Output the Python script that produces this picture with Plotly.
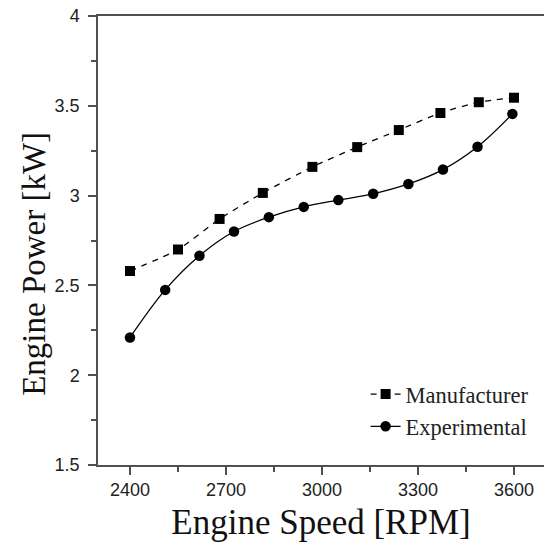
import plotly.graph_objects as go

# Manufacturer data
manu_rpm = [2400, 2550, 2680, 2815, 2970, 3110, 3240, 3370, 3490, 3600]
manu_kw = [2.58, 2.70, 2.87, 3.015, 3.16, 3.27, 3.365, 3.46, 3.52, 3.545]

# Experimental data
exp_rpm = [2400, 2510, 2617, 2725, 2834, 2943, 3051, 3160, 3270, 3378, 3486, 3595]
exp_kw = [2.21, 2.475, 2.665, 2.80, 2.88, 2.937, 2.975, 3.01, 3.065, 3.145, 3.272, 3.455]

x_ticks = [2400, 2700, 3000, 3300, 3600]
y_ticks = [1.5, 2, 2.5, 3, 3.5, 4]
y_ticktext = ["1.5", "2", "2.5", "3", "3.5", "4"]

axis_col = "#505050"

fig = go.Figure()
fig.add_trace(go.Scatter(
    x=manu_rpm, y=manu_kw, name="Manufacturer", mode="lines+markers",
    line=dict(color="black", width=1.3, dash="6px,6px", shape="spline", smoothing=0.6),
    marker=dict(symbol="square", size=10, color="black"),
))
fig.add_trace(go.Scatter(
    x=exp_rpm, y=exp_kw, name="Experimental", mode="lines+markers",
    line=dict(color="black", width=1.3, shape="spline"),
    marker=dict(symbol="circle", size=10.5, color="black"),
))

fig.update_layout(
    width=544, height=542,
    margin=dict(l=98, r=0, t=16, b=77),
    paper_bgcolor="white", plot_bgcolor="white",
    showlegend=True,
    legend=dict(
        x=0.60, y=0.205, xanchor="left", yanchor="top",
        font=dict(family="Liberation Serif", size=22.5, color="#222222"),
        bgcolor="rgba(0,0,0,0)", borderwidth=0,
        tracegroupgap=0,
    ),
    xaxis=dict(
        range=[2300, 3693.75], tickvals=x_ticks,
        ticks="outside", ticklen=8, tickwidth=1.5, tickcolor=axis_col,
        showline=True, linecolor=axis_col, linewidth=1.5, mirror=True,
        showgrid=False, zeroline=False, ticklabelstandoff=0,
        ticklabeloverflow="allow",
        minor=dict(dtick=150, tick0=2400, ticks="outside", ticklen=5, tickcolor=axis_col, tickwidth=1.5, showgrid=False),
        tickfont=dict(family="Liberation Sans", size=18, color="#222222"),
        title=dict(text="Engine Speed [RPM]", font=dict(family="Liberation Serif", size=35, color="#111111"), standoff=10),
    ),
    yaxis=dict(
        range=[1.5, 4], tickvals=y_ticks, ticktext=y_ticktext,
        ticks="outside", ticklen=8, tickwidth=1.5, tickcolor=axis_col,
        showline=True, linecolor=axis_col, linewidth=1.5, mirror=False,
        showgrid=False, zeroline=False, ticklabelstandoff=5,
        ticklabeloverflow="allow",
        minor=dict(dtick=0.25, tick0=1.5, ticks="outside", ticklen=5, tickcolor=axis_col, tickwidth=1.5, showgrid=False),
        tickfont=dict(family="Liberation Sans", size=18, color="#222222"),
    ),
    annotations=[dict(
        text="Engine Power [kW]", textangle=-90, xref="paper", yref="paper",
        x=-0.1435, y=0.448, xanchor="center", yanchor="middle", showarrow=False,
        font=dict(family="Liberation Serif", size=33, color="#111111"),
    )],
)

fig.write_html("out.html", config={"displayModeBar": False},
               post_script="document.body.style.margin='0px';")
